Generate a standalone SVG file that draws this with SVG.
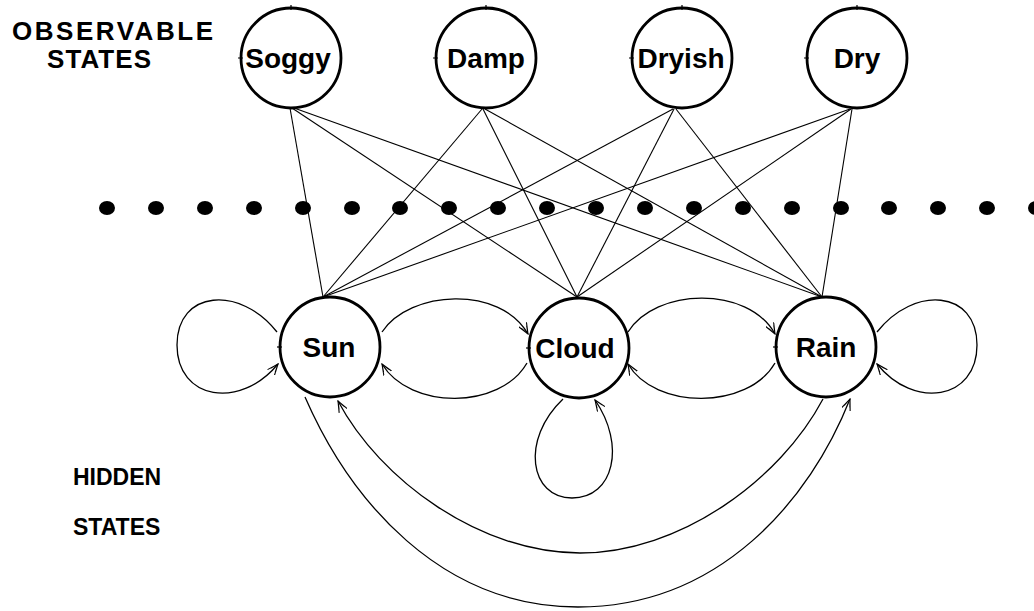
<svg xmlns="http://www.w3.org/2000/svg" width="1034" height="611" viewBox="0 0 1034 611">
  <style>
    .bg { fill: #ffffff; }
    .state { fill: #ffffff; stroke: #000000; stroke-width: 2.8; }
    .tick { stroke: #000000; stroke-width: 1.2; fill: none; }
    .name { font-family: "Liberation Sans", Arial, sans-serif; font-weight: bold; font-size: 28px; fill: #000000; text-anchor: middle; }
    .caption { font-family: "Liberation Sans", Arial, sans-serif; font-weight: bold; font-size: 26px; fill: #000000; }
    .caption-low { font-family: "Liberation Sans", Arial, sans-serif; font-weight: bold; font-size: 23px; fill: #000000; }
    .emit { stroke: #000000; stroke-width: 1.1; fill: none; }
    .trans { stroke: #000000; stroke-width: 1.3; fill: none; marker-end: url(#head); }
    .dot { fill: #000000; }
  </style>
  <defs>
    <marker id="head" viewBox="0 0 12 10" refX="11" refY="5" markerWidth="12" markerHeight="10" markerUnits="userSpaceOnUse" orient="auto">
      <path d="M0,0.5 L11,5 L0,9.5 M3,2 L11,5 L3,8" fill="none" stroke="#000000" stroke-width="1.1"/>
    </marker>
  </defs>

  <rect class="bg" x="0" y="0" width="1034" height="611"/>

  <!-- captions -->
  <g id="caption-observable">
    <text class="caption" x="12" y="40" textLength="201" lengthAdjust="spacing">OBSERVABLE</text>
    <text class="caption" x="47" y="68" textLength="104" lengthAdjust="spacing">STATES</text>
  </g>
  <g id="caption-hidden">
    <text class="caption-low" x="73" y="485">HIDDEN</text>
    <text class="caption-low" x="73" y="535">STATES</text>
  </g>

  <!-- dotted separator between the two layers -->
  <g id="separator">
    <ellipse class="dot" cx="107" cy="208" rx="8" ry="7"/>
    <ellipse class="dot" cx="156" cy="208" rx="8" ry="7"/>
    <ellipse class="dot" cx="205" cy="208" rx="8" ry="7"/>
    <ellipse class="dot" cx="254" cy="208" rx="8" ry="7"/>
    <ellipse class="dot" cx="303" cy="208" rx="8" ry="7"/>
    <ellipse class="dot" cx="352" cy="208" rx="8" ry="7"/>
    <ellipse class="dot" cx="400" cy="208" rx="8" ry="7"/>
    <ellipse class="dot" cx="449" cy="208" rx="8" ry="7"/>
    <ellipse class="dot" cx="498" cy="208" rx="8" ry="7"/>
    <ellipse class="dot" cx="547" cy="208" rx="8" ry="7"/>
    <ellipse class="dot" cx="596" cy="208" rx="8" ry="7"/>
    <ellipse class="dot" cx="645" cy="208" rx="8" ry="7"/>
    <ellipse class="dot" cx="694" cy="208" rx="8" ry="7"/>
    <ellipse class="dot" cx="743" cy="208" rx="8" ry="7"/>
    <ellipse class="dot" cx="792" cy="208" rx="8" ry="7"/>
    <ellipse class="dot" cx="841" cy="208" rx="8" ry="7"/>
    <ellipse class="dot" cx="889" cy="208" rx="8" ry="7"/>
    <ellipse class="dot" cx="938" cy="208" rx="8" ry="7"/>
    <ellipse class="dot" cx="987" cy="208" rx="8" ry="7"/>
    <ellipse class="dot" cx="1036" cy="208" rx="8" ry="7"/>
  </g>

  <!-- connectors: emissions (observable -> hidden) and transitions -->
  <g id="connectors">
    <line class="emit" x1="290" y1="108" x2="323" y2="297"/>
    <line class="emit" x1="292" y1="108" x2="577" y2="297"/>
    <line class="emit" x1="294" y1="108" x2="822" y2="297"/>

    <line class="emit" x1="482" y1="109" x2="323" y2="297"/>
    <line class="emit" x1="483" y1="109" x2="577" y2="297"/>
    <line class="emit" x1="485" y1="109" x2="822" y2="297"/>

    <line class="emit" x1="673" y1="109" x2="323" y2="297"/>
    <line class="emit" x1="674" y1="109" x2="577" y2="297"/>
    <line class="emit" x1="676" y1="109" x2="822" y2="297"/>

    <line class="emit" x1="850" y1="109" x2="323" y2="297"/>
    <line class="emit" x1="851" y1="109" x2="577" y2="297"/>
    <line class="emit" x1="852" y1="109" x2="822" y2="297"/>

    <!-- self loops -->
    <path class="trans" d="M277,332 C240,285 177,290 177,345 C177,400 240,410 278,364"/>
    <path class="trans" d="M877,332 C914,285 977,290 977,345 C977,400 914,410 877,364"/>
    <path class="trans" d="M563,399 C520,440 530,498 572,498 C614,498 626,445 595,400"/>

    <!-- neighbour transitions -->
    <path class="trans" d="M382,332 C410,290 500,285 528,334"/>
    <path class="trans" d="M527,363 C500,410 410,410 382,364"/>
    <path class="trans" d="M628,332 C655,288 748,285 775,334"/>
    <path class="trans" d="M775,363 C748,410 655,410 628,364"/>

    <!-- Sun <-> Rain arcs underneath -->
    <path class="trans" d="M305,397 C350,500 440,607 578,607 C720,607 810,500 850,399"/>
    <path class="trans" d="M823,399 C780,480 680,553 580,553 C480,553 380,480 338,401"/>
  </g>

  <!-- observable states -->
  <g id="node-soggy">
    <circle class="state" cx="291" cy="58" r="50"/>
    <path class="tick" d="M291,5 V10 M238,58 H243"/>
    <text class="name" x="288" y="68">Soggy</text>
  </g>
  <g id="node-damp">
    <circle class="state" cx="486" cy="58" r="50"/>
    <path class="tick" d="M486,5 V10 M433,58 H438"/>
    <text class="name" x="486" y="68">Damp</text>
  </g>
  <g id="node-dryish">
    <circle class="state" cx="682" cy="58" r="50"/>
    <path class="tick" d="M682,5 V10 M629,58 H634"/>
    <text class="name" x="681" y="68">Dryish</text>
  </g>
  <g id="node-dry">
    <circle class="state" cx="857" cy="58" r="50"/>
    <path class="tick" d="M857,5 V10 M804,58 H809"/>
    <text class="name" x="857" y="68">Dry</text>
  </g>

  <!-- hidden states -->
  <g id="node-sun">
    <circle class="state" cx="330" cy="347" r="50"/>
    <path class="tick" d="M277,347 H282"/>
    <text class="name" x="329" y="357">Sun</text>
  </g>
  <g id="node-cloud">
    <circle class="state" cx="579" cy="348" r="50"/>
    <path class="tick" d="M526,348 H531"/>
    <text class="name" x="575" y="358">Cloud</text>
  </g>
  <g id="node-rain">
    <circle class="state" cx="826" cy="347" r="50"/>
    <path class="tick" d="M773,347 H778"/>
    <text class="name" x="826" y="357">Rain</text>
  </g>
</svg>
